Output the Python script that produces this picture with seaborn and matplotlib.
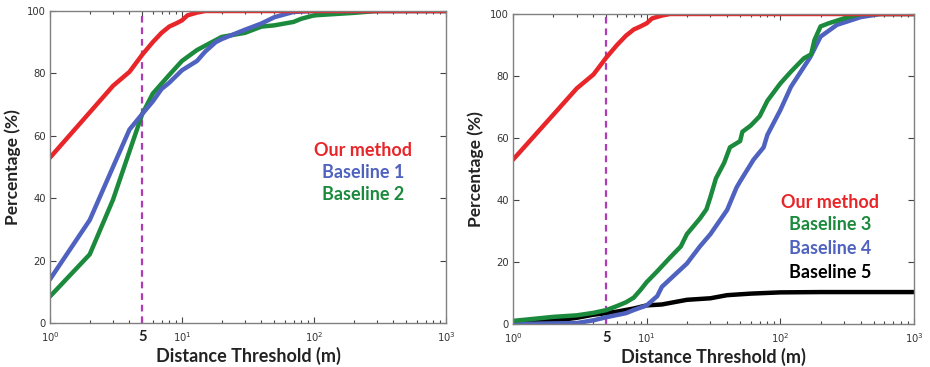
import matplotlib
matplotlib.use("Agg")
import matplotlib.pyplot as plt
import seaborn as sns
import pandas as pd
import numpy as np

# ---- data ----
ours_x = [1, 2, 3, 4, 5, 6, 7, 8, 9, 10, 11, 13, 15, 1000]
ours_y = [53, 67.5, 76, 80.5, 86, 90, 93, 95, 96, 97, 98.6, 99.5, 100, 100]

b1_x = [1, 2, 3, 4, 5, 6, 7, 8, 10, 13, 15, 18, 20, 30, 40, 50, 70, 100, 1000]
b1_y = [14, 33, 50, 62, 67, 71, 75, 77, 81, 84, 87, 90, 91, 94, 96, 98, 99.7, 100, 100]

b2_x = [1, 2, 3, 4, 5, 6, 8, 10, 13, 20, 30, 40, 50, 70, 80, 100, 200, 300, 1000]
b2_y = [8.5, 22, 39.5, 55, 67, 73.5, 79.5, 84, 87.5, 91.7, 93, 95, 95.4, 96.5, 97.5, 98.6, 99.4, 100, 100]

b3_x = [1, 2, 3, 4, 5, 6, 7, 8, 9, 10, 12, 15, 18, 20, 25, 28, 30, 33, 38, 42,
        50, 52, 60, 70, 80, 100, 120, 150, 170, 180, 200, 230, 300, 400, 1000]
b3_y = [1, 2.3, 2.8, 3.6, 4.5, 5.8, 7, 8.5, 11, 13.5, 17, 21.5, 25, 29, 34, 37, 41, 47, 52, 57,
        59, 62, 64, 67, 72, 77.6, 81.4, 85.7, 87, 91.6, 96, 97, 98.6, 100, 100]

b4_x = [1, 3, 4, 5, 7, 8, 10, 12, 13, 15, 20, 25, 30, 40, 47, 50, 63, 75, 80,
        100, 120, 167, 200, 265, 400, 560, 1000]
b4_y = [0, 0.3, 1.2, 2.2, 3.5, 4.5, 6, 9, 12, 14.5, 19.5, 25, 29, 36.8, 44, 46, 53, 57, 61,
        69, 76.5, 86, 92.7, 96.5, 99, 100, 100]

b5_x = [1, 2, 3, 4, 5, 6, 8, 10, 13, 15, 20, 30, 40, 60, 100, 200, 1000]
b5_y = [0.5, 1, 2, 3, 3.5, 4, 5, 6, 6.3, 6.8, 7.8, 8.3, 9.3, 9.8, 10.2, 10.3, 10.3]

left_names = ["Our method", "Baseline 1", "Baseline 2"]
right_names = ["Our method", "Baseline 3", "Baseline 4", "Baseline 5"]

RED = "#e8262a"
BLUE = "#4f62bf"
GREEN = "#1b8a3c"
BLACK = "#000000"
MAGENTA = "#b03cb5"

sns.set_theme(style="ticks")
plt.rcParams["font.family"] = ["DejaVu Sans"]

def frame(xs, ys, name):
    return pd.DataFrame({"x": xs, "y": ys, "method": name})

df_left = pd.concat([frame(ours_x, ours_y, left_names[0]),
                     frame(b1_x, b1_y, left_names[1]),
                     frame(b2_x, b2_y, left_names[2])])
df_right = pd.concat([frame(ours_x, ours_y, right_names[0]),
                      frame(b3_x, b3_y, right_names[1]),
                      frame(b4_x, b4_y, right_names[2]),
                      frame(b5_x, b5_y, right_names[3])])

fig = plt.figure(figsize=(9.3, 3.67), dpi=100)
W, H = 930, 367
def rect(l, t, r, b):
    return [l / W, 1 - b / H, (r - l) / W, (b - t) / H]

ax1 = fig.add_axes(rect(50, 11, 446, 323))
ax2 = fig.add_axes(rect(513, 14, 914, 324))

def style(ax, df, palette, order):
    # draw the lines in reverse so "Our method" stays on top
    for name in reversed(order):
        sub = df[df["method"] == name]
        sns.lineplot(data=sub, x="x", y="y", ax=ax, color=palette[name],
                     linewidth=3.2, estimator=None, sort=True, legend=False)
    ax.axvline(5, color=MAGENTA, ls=(0, (3, 2.2)), lw=1.6, zorder=1)
    ax.set_xscale("log")
    ax.set_xlim(1, 1000)
    ax.set_ylim(0, 100)
    ax.set_xticks([1, 5, 10, 100, 1000],
                  labels=[r"$10^{0}$", "5", r"$10^{1}$", r"$10^{2}$", r"$10^{3}$"])
    ax.set_yticks([0, 20, 40, 60, 80, 100])
    ax.tick_params(axis="both", which="both", direction="in", top=True, right=True,
                   labelsize=7.2, colors="#444444", labelcolor="#333333", width=0.8)
    ax.tick_params(axis="both", which="major", length=4)
    ax.tick_params(axis="x", which="minor", length=2)
    ax.tick_params(axis="x", which="major", pad=5)
    ax.tick_params(axis="y", which="major", pad=3)
    for lab in ax.get_xticklabels():
        if lab.get_text() == "5":
            lab.set_fontweight("bold")
            lab.set_fontsize(10.5)
            lab.set_color("#222222")
            lab.set_family(["Lato"])
    for sp in ax.spines.values():
        sp.set_color("#808080")
        sp.set_linewidth(1.0)
    ax.set_xlabel("Distance Threshold (m)", fontsize=13, fontweight="bold",
                  family=["Lato"], color="#222222", labelpad=2)
    ax.set_ylabel("Percentage (%)", fontsize=12.5, fontweight="bold",
                  family=["Lato"], color="#222222", labelpad=4)

style(ax1, df_left, {left_names[0]: RED, left_names[1]: BLUE, left_names[2]: GREEN}, left_names)
style(ax2, df_right, {right_names[0]: RED, right_names[1]: GREEN, right_names[2]: BLUE,
                      right_names[3]: BLACK}, right_names)

# colored text legends
for name, col, yy in zip(left_names, [RED, BLUE, GREEN], [151, 173, 195]):
    fig.text(363 / W, 1 - yy / H, name, color=col, fontsize=13, fontweight="bold",
             family=["Lato"], ha="center", va="center")
for name, col, yy in zip(right_names, [RED, GREEN, BLUE, BLACK], [202, 225, 249, 273]):
    fig.text(830 / W, 1 - yy / H, name, color=col, fontsize=13, fontweight="bold",
             family=["Lato"], ha="center", va="center")

fig.savefig("out.png", dpi=100)
